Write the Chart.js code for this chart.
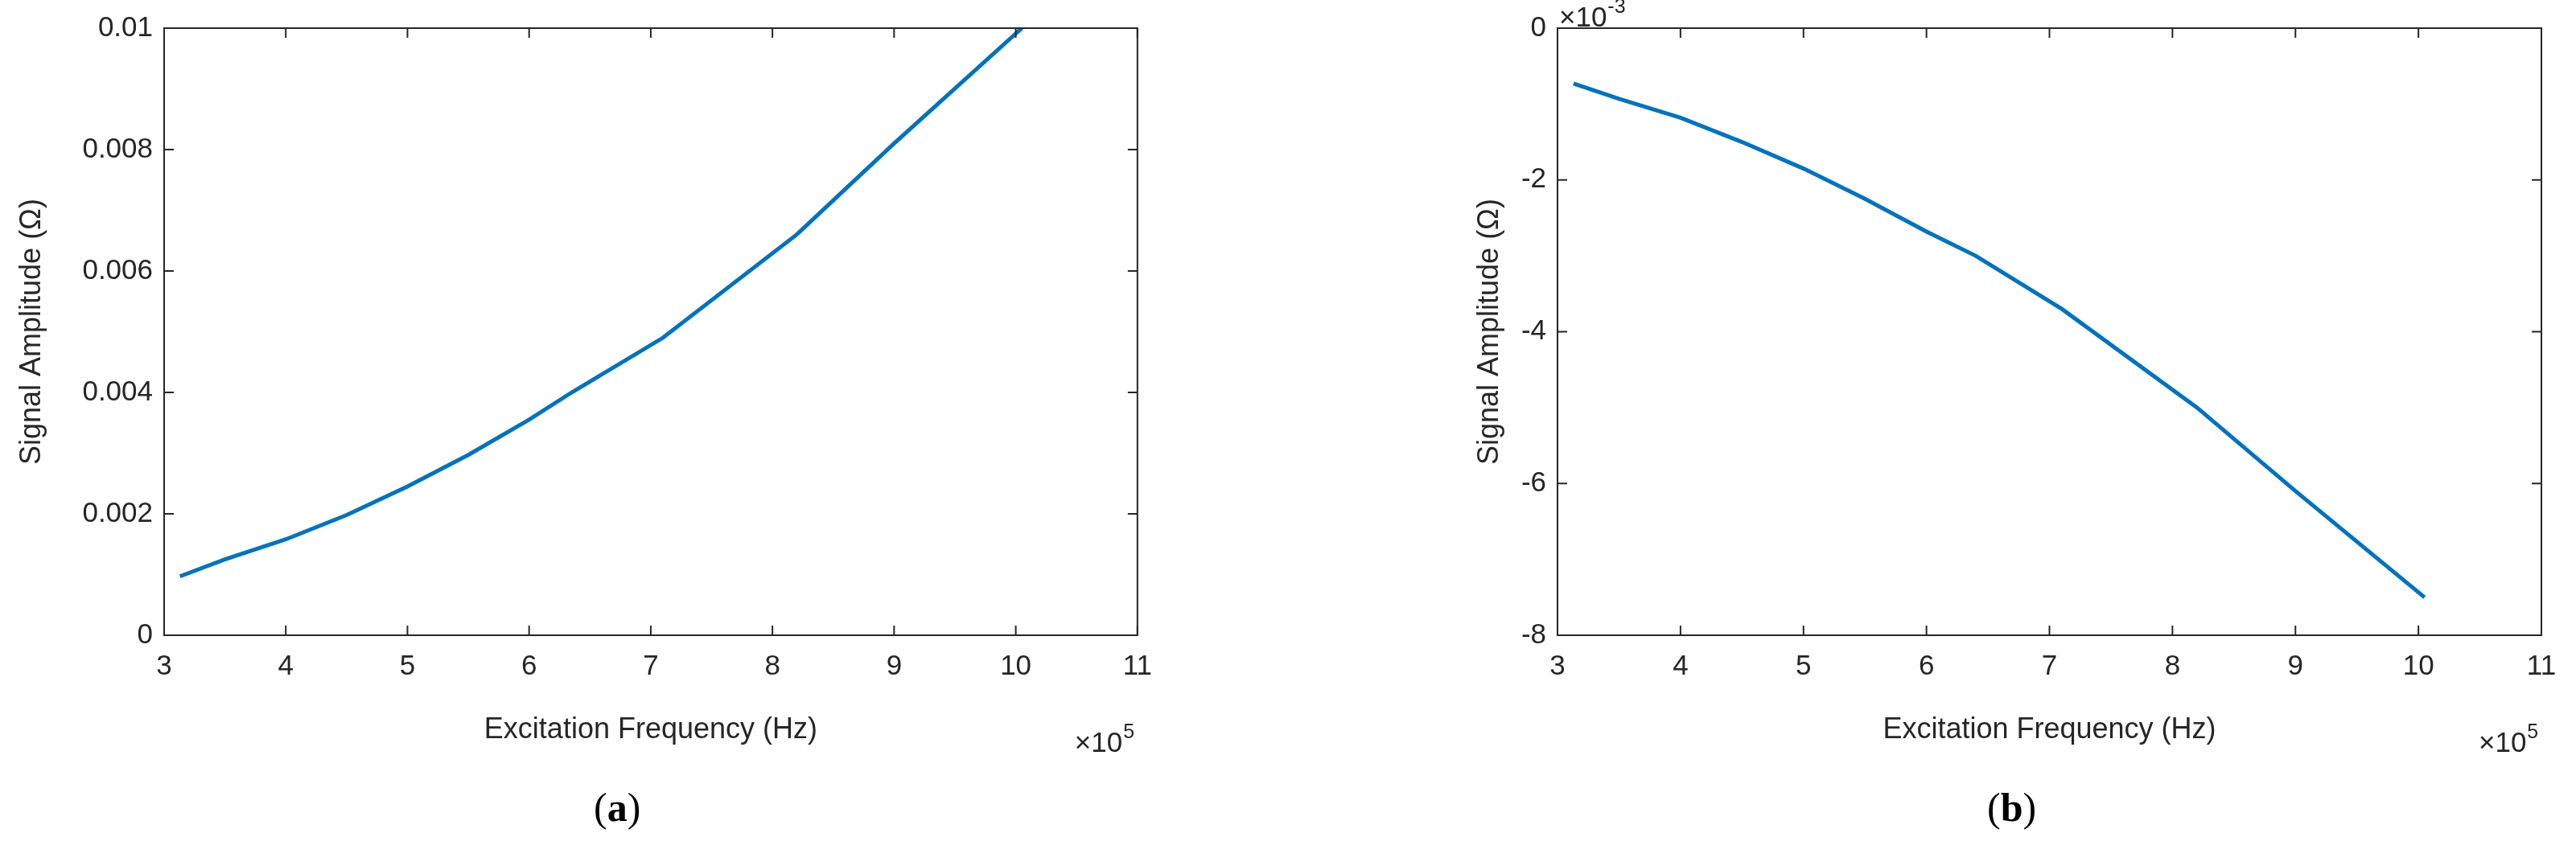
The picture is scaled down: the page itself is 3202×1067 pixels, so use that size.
<!DOCTYPE html>
<html><head><meta charset="utf-8">
<script src="https://cdn.jsdelivr.net/npm/chart.js@4.4.0/dist/chart.umd.min.js"></script>
<style>
body{margin:0;background:#fff;width:3202px;height:1067px;position:relative;overflow:hidden}
.box{position:absolute;top:0;height:935px}
.cap{position:absolute;top:975px;font:bold 50px "Liberation Serif",serif;color:#000}
.cap b{font-weight:normal}
</style></head><body>
<div class="box" style="left:0;width:1450px"><canvas id="ca"></canvas></div>
<div class="box" style="left:1750px;width:1452px"><canvas id="cb"></canvas></div>
<div class="cap" style="left:738px"><b>(</b>a<b>)</b></div>
<div class="cap" style="left:2470px"><b>(</b>b<b>)</b></div>
<script>
// ── data (frequency in Hz, amplitude in Ω) ──
const freqA = [313000, 350000, 400000, 450000, 500000, 550000, 600000, 635000, 710000, 820000, 900000, 1005000];
const ampA  = [0.00097, 0.00125, 0.00158, 0.00198, 0.00245, 0.00297, 0.00355, 0.0040, 0.0049, 0.0066, 0.0081, 0.0100];
const freqB = [313000, 350000, 400000, 450000, 500000, 550000, 600000, 640000, 710000, 820000, 900000, 1005000];
const ampB  = [-0.00073, -0.00093, -0.00118, -0.00150, -0.00185, -0.00225, -0.00268, -0.0030, -0.0037, -0.0050, -0.0061, -0.0075];
const xTicks = [3, 4, 5, 6, 7, 8, 9, 10, 11];

const ink = '#262626';
const font = { family: '"Liberation Sans", Arial, sans-serif', size: 35 };

// MATLAB-style inward ticks on all four sides + exponent labels
const boxTicks = {
  id: 'boxTicks',
  afterDraw(chart, args, opts) {
    const { ctx, chartArea: a, scales: { x, y } } = chart;
    ctx.save();
    ctx.strokeStyle = ink; ctx.lineWidth = 2;
    ctx.strokeRect(a.left, a.top, a.right - a.left, a.bottom - a.top);
    ctx.beginPath();
    x.ticks.forEach(t => {
      const p = x.getPixelForValue(t.value);
      ctx.moveTo(p, a.bottom); ctx.lineTo(p, a.bottom - 12);
      ctx.moveTo(p, a.top); ctx.lineTo(p, a.top + 12);
    });
    y.ticks.forEach(t => {
      const p = y.getPixelForValue(t.value);
      ctx.moveTo(a.left, p); ctx.lineTo(a.left + 12, p);
      ctx.moveTo(a.right, p); ctx.lineTo(a.right - 12, p);
    });
    ctx.stroke();
    ctx.fillStyle = ink;
    const sup = (txt, exp, px, py) => {
      ctx.font = '35px "Liberation Sans", Arial';
      ctx.textAlign = 'left'; ctx.textBaseline = 'alphabetic';
      ctx.fillText(txt, px, py);
      const w = ctx.measureText(txt).width;
      ctx.font = '25px "Liberation Sans", Arial';
      ctx.fillText(exp, px + w + 1, py - 17);
    };
    sup('\u00d710', '5', a.right - 78, a.bottom + 145);
    if (opts.yExp) sup('\u00d710', opts.yExp, a.left + 2, a.top - 2);
    ctx.restore();
  }
};

function makeChart(id, xs, ys, yMin, yMax, yLabel, pad, yWidth, yExp) {
  new Chart(document.getElementById(id), {
    type: 'line',
    data: { datasets: [{
      data: xs.map((v, i) => ({ x: v, y: ys[i] })),
      borderColor: '#0072BD', borderWidth: 5, pointRadius: 0, tension: 0
    }] },
    options: {
      responsive: true, maintainAspectRatio: false, animation: false,
      layout: { padding: pad },
      plugins: { legend: { display: false }, tooltip: { enabled: false }, boxTicks: { yExp } },
      scales: {
        x: {
          type: 'linear', min: 300000, max: 1100000,
          afterBuildTicks: s => { s.ticks = xTicks.map(v => ({ value: v * 1e5 })); },
          afterFit: s => { s.height = 140; },
          grid: { display: false, drawTicks: false },
          border: { display: false },
          ticks: { color: ink, font, padding: 18, maxRotation: 0, callback: v => String(v / 1e5) },
          title: { display: true, text: 'Excitation Frequency (Hz)', color: ink, font: { ...font, size: 36 }, padding: 0 }
        },
        y: {
          min: yMin, max: yMax,
          afterFit: s => { s.width = yWidth; },
          grid: { display: false, drawTicks: false },
          border: { display: false },
          ticks: { color: ink, font, padding: 14, stepSize: 0.002, callback: yLabel },
          title: { display: true, text: 'Signal Amplitude (\u03a9)', color: ink, font: { ...font, size: 36 }, padding: 0 }
        }
      }
    },
    plugins: [boxTicks]
  });
}

makeChart('ca', freqA, ampA, 0, 0.01,
  v => (v === 0 ? '0' : Math.abs(v - 0.01) < 1e-9 ? '0.01' : v.toFixed(3)),
  { top: 25, right: 27, bottom: 5, left: 18 }, 186, null);
makeChart('cb', freqB, ampB, -0.008, 0,
  v => String(Math.round(v * 1000)),
  { top: 25, right: 43, bottom: 5, left: 80 }, 106, '-3');
</script>
</body></html>
